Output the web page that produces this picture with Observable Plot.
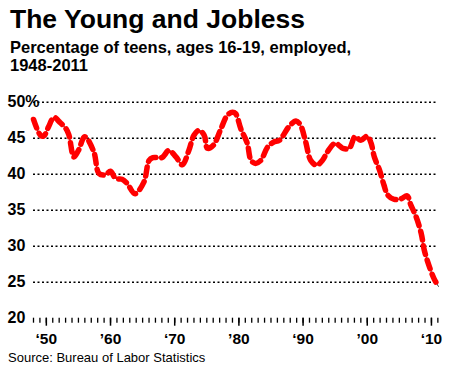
<!DOCTYPE html>
<html><head><meta charset="utf-8">
<script src="https://cdn.jsdelivr.net/npm/d3@7"></script>
<script src="https://cdn.jsdelivr.net/npm/@observablehq/plot@0.6"></script>
<style>
body{margin:0;background:#fff;font-family:"Liberation Sans",Arial,Helvetica,sans-serif;color:#000}
#wrap{width:450px;height:373px;position:relative;overflow:hidden;background:#fff}
#title{position:absolute;left:10px;top:3.8px;font-size:26.5px;font-weight:bold;line-height:30px;white-space:nowrap}
#sub{position:absolute;left:10px;top:37.7px;font-size:16.5px;font-weight:bold;line-height:18.5px;white-space:nowrap}
#chart{position:absolute;left:0;top:80px}
#src{position:absolute;left:8px;top:349.7px;font-size:13px;line-height:15px;white-space:nowrap}
</style></head>
<body>
<div id="wrap">
  <div id="title">The Young and Jobless</div>
  <div id="sub">Percentage of teens, ages 16-19, employed,<br>1948-2011</div>
  <div id="chart"></div>
  <div id="src">Source: Bureau of Labor Statistics</div>
</div>
<script>
const years = [1948.0, 1949.1, 1949.6, 1950.3, 1951.2, 1952.0, 1953.0, 1953.5, 1954.3, 1955.0,
  1956.0, 1957.4, 1958.2, 1959.2, 1960.0, 1960.8, 1961.8, 1962.6, 1963.8, 1965.2,
  1966.0, 1966.6, 1968.0, 1969.1, 1970.2, 1971.2, 1972.2, 1973.0, 1973.8, 1974.6,
  1975.1, 1976.0, 1977.2, 1978.2, 1979.0, 1979.5, 1980.3, 1981.3, 1981.9, 1982.6,
  1983.4, 1984.5, 1985.5, 1986.3, 1987.8, 1988.9, 1989.6, 1990.4, 1991.2, 1992.1,
  1993.0, 1993.8, 1995.0, 1996.2, 1997.2, 1998.1, 1999.0, 2000.0, 2000.6, 2001.1,
  2001.9, 2002.6, 2003.2, 2004.2, 2005.3, 2006.2, 2006.8, 2007.6, 2008.4, 2008.9,
  2009.7, 2010.4, 2011.1];
const values = [47.6, 45.4, 45.3, 46.5, 47.9, 47.3, 46.4, 45.5, 42.4, 43.3,
  45.2, 43.1, 40.1, 39.9, 40.4, 39.4, 39.3, 38.7, 37.3, 38.9,
  41.9, 42.3, 42.3, 43.3, 42.4, 41.3, 43.3, 45.4, 46.1, 45.4,
  43.6, 44.0, 46.3, 48.2, 48.6, 48.4, 46.3, 44.3, 41.9, 41.5,
  41.9, 43.8, 44.5, 44.7, 46.6, 47.4, 46.8, 44.5, 41.9, 41.25,
  41.9, 43.1, 44.3, 43.6, 43.6, 45.2, 44.7, 45.3, 44.3, 42.4,
  40.6, 38.5, 37.1, 36.5, 36.6, 37.0, 35.7, 34.1, 31.8, 29.4,
  27.1, 25.5, 24.4];
const gridValues = [25, 30, 35, 40, 45, 50];
const yTickValues = [50, 45, 40, 35, 30, 25, 20];
const yTickLabels = ["50%", "45", "40", "35", "30", "25", "20"];
const yearTicks = d3.range(1948, 2012);
const decadeTicks = [1950, 1960, 1970, 1980, 1990, 2000, 2010];
const decadeLabels = ["\u201850", "\u201960", "\u201870", "\u201980", "\u201890", "\u201900", "\u201810"];

const data = years.map((y, i) => ({year: y, value: values[i]}));
const labelMap = new Map(decadeTicks.map((d, i) => [d, decadeLabels[i]]));

const chart = Plot.plot({
  width: 450, height: 270,
  marginTop: 21.7, marginBottom: 32.3, marginLeft: 33, marginRight: 12,
  x: {domain: [1948, 2011.1], label: null},
  y: {domain: [20, 50], axis: null, label: null},
  style: {fontFamily: '"Liberation Sans", Arial, Helvetica, sans-serif', background: "white", color: "#000", overflow: "visible"},
  marks: [
    Plot.ruleY(gridValues, {stroke: "#000", strokeWidth: 1.6, strokeDasharray: "2,2.5"}),
    Plot.axisX({ticks: yearTicks, tickSize: 5, tickFormat: () => "", strokeWidth: 1.3, strokeOpacity: 1}),
    Plot.axisX({ticks: decadeTicks, tickSize: 8, tickPadding: 7, tickFormat: d => labelMap.get(d),
      fontSize: 15.5, fontWeight: "bold", strokeWidth: 1.5, strokeOpacity: 1}),
    Plot.text(yTickValues, {y: d => d, text: yTickLabels, frameAnchor: "left", dx: -26,
      textAnchor: "start", fontSize: 16, fontWeight: "bold", fill: "#000"}),
    Plot.line(data, {x: "year", y: "value", stroke: "#333", strokeWidth: 1, curve: "catmull-rom"}),
    Plot.line(data, {x: "year", y: "value", stroke: "#ff0000", strokeWidth: 5.5,
      strokeDasharray: "9,5.8", strokeLinecap: "round", curve: "catmull-rom"})
  ]
});
document.getElementById("chart").appendChild(chart);
</script>
</body></html>
